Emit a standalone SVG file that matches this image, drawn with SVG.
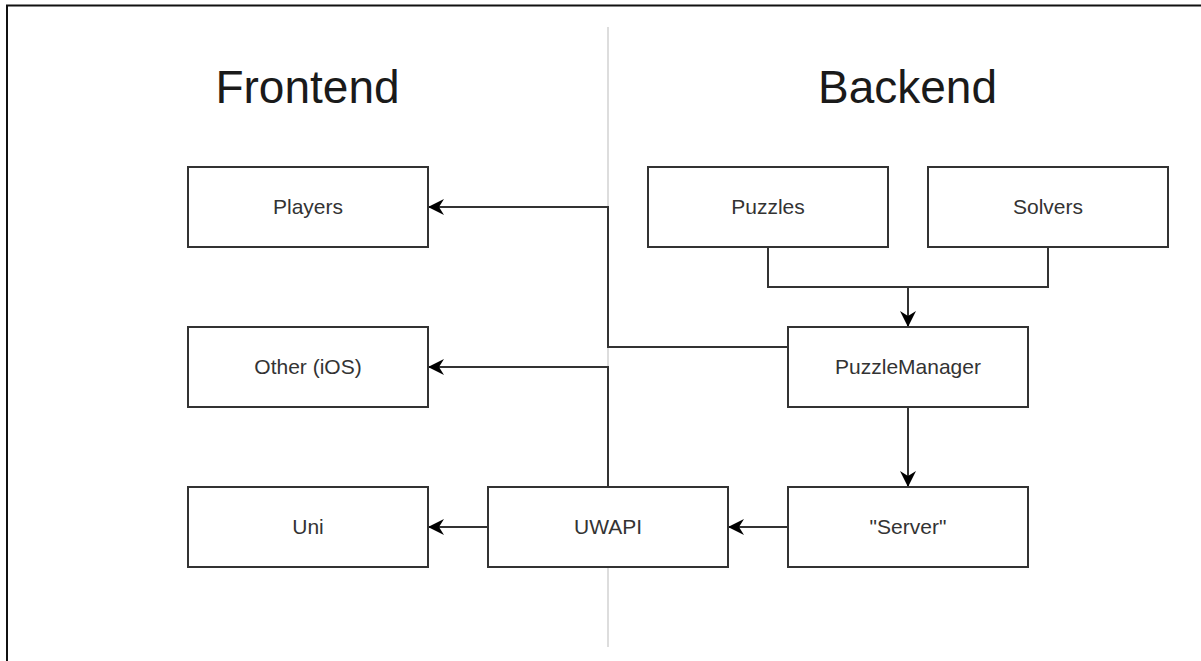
<svg xmlns="http://www.w3.org/2000/svg" width="1201" height="661" viewBox="0 0 1201 661">
  <style>
    .box { fill: #ffffff; stroke: #333333; stroke-width: 2; }
    .label { font-family: "Liberation Sans", Arial, sans-serif; font-size: 21px; fill: #333333; text-anchor: middle; }
    .title { font-family: "Liberation Sans", Arial, sans-serif; font-size: 46px; fill: #1a1a1a; text-anchor: middle; }
    .edge { fill: none; stroke: #333333; stroke-width: 2; }
  </style>
  <defs>
    <marker id="arrow" viewBox="0 0 16 16" refX="15" refY="8" markerWidth="16" markerHeight="16" markerUnits="userSpaceOnUse" orient="auto">
      <path d="M0,0 L16,8 L0,16 L5,8 Z" fill="#000000"/>
    </marker>
  </defs>

  <rect width="1201" height="661" fill="#ffffff"/>
  <!-- frame edges -->
  <path d="M7,661 V5.5 H1201" fill="none" stroke="#111111" stroke-width="2"/>
  <!-- divider between the two halves -->
  <line x1="608" y1="27" x2="608" y2="647" stroke="#dddddd" stroke-width="2"/>

  <text class="title" x="307.5" y="103">Frontend</text>
  <text class="title" x="907.5" y="103">Backend</text>

  <g id="connectors">
    <path class="edge" d="M788,347 H608 V207 H429" marker-end="url(#arrow)"/>
    <path class="edge" d="M608,487 V367 H429" marker-end="url(#arrow)"/>
    <path class="edge" d="M768,247 V287 H1048 V247"/>
    <path class="edge" d="M908,287 V326" marker-end="url(#arrow)"/>
    <path class="edge" d="M908,407 V486" marker-end="url(#arrow)"/>
    <path class="edge" d="M788,527 H729" marker-end="url(#arrow)"/>
    <path class="edge" d="M488,527 H429" marker-end="url(#arrow)"/>
  </g>

  <g id="players">
    <rect class="box" x="188" y="167" width="240" height="80"/>
    <text class="label" x="308" y="214">Players</text>
  </g>
  <g id="other-ios">
    <rect class="box" x="188" y="327" width="240" height="80"/>
    <text class="label" x="308" y="374">Other (iOS)</text>
  </g>
  <g id="uni">
    <rect class="box" x="188" y="487" width="240" height="80"/>
    <text class="label" x="308" y="534">Uni</text>
  </g>
  <g id="uwapi">
    <rect class="box" x="488" y="487" width="240" height="80"/>
    <text class="label" x="608" y="534">UWAPI</text>
  </g>
  <g id="server">
    <rect class="box" x="788" y="487" width="240" height="80"/>
    <text class="label" x="908" y="534">"Server"</text>
  </g>
  <g id="puzzle-manager">
    <rect class="box" x="788" y="327" width="240" height="80"/>
    <text class="label" x="908" y="374">PuzzleManager</text>
  </g>
  <g id="puzzles">
    <rect class="box" x="648" y="167" width="240" height="80"/>
    <text class="label" x="768" y="214">Puzzles</text>
  </g>
  <g id="solvers">
    <rect class="box" x="928" y="167" width="240" height="80"/>
    <text class="label" x="1048" y="214">Solvers</text>
  </g>
</svg>
